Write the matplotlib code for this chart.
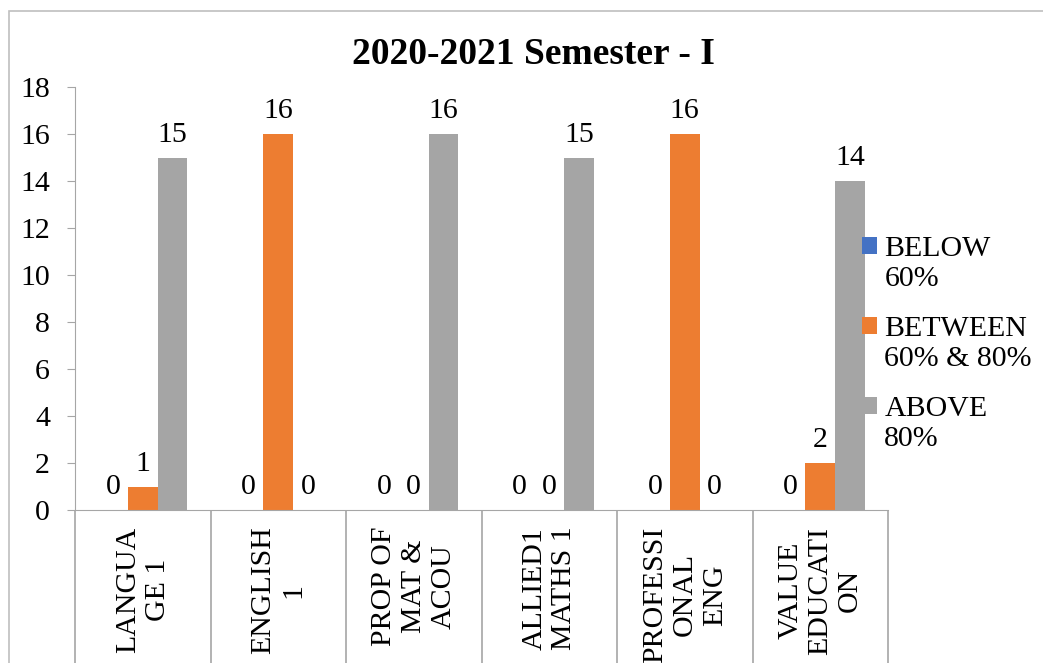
import matplotlib.pyplot as plt
import matplotlib.patches as mpatches
from matplotlib.legend_handler import HandlerPatch
from matplotlib.container import BarContainer
import numpy as np

plt.rcParams['font.family'] = ['Liberation Serif', 'DejaVu Serif']

categories = ['LANGUA\nGE 1', 'ENGLISH\n1', 'PROP OF\nMAT &\nACOU',
              'ALLIED1\nMATHS 1', 'PROFESSI\nONAL\nENG', 'VALUE\nEDUCATI\nON']
series_names = ['BELOW\n60%', 'BETWEEN\n60% & 80%', 'ABOVE\n80%']
below_60 = [0, 0, 0, 0, 0, 0]
between_60_80 = [1, 16, 0, 0, 16, 2]
above_80 = [15, 0, 16, 15, 0, 14]
colors = ['#4472C4', '#ED7D31', '#A5A5A5']

W, H = 1043, 663
fs = 21.5
fig = plt.figure(figsize=(W / 100, H / 100), dpi=100)

# outer chart border (only top and left visible in the reference)
fig.add_artist(mpatches.Rectangle((9 / W, -0.1), 1.2, (H - 11) / H + 0.1,
                                  transform=fig.transFigure, fill=False,
                                  edgecolor='#BFBFBF', linewidth=1.2))

ax = fig.add_axes([75 / W, (H - 510) / H, (888 - 75) / W, (510 - 87) / H])

x = np.arange(len(categories))
bw = 0.22
gray = '#A6A6A6'
for i, (vals, name) in enumerate(zip([below_60, between_60_80, above_80], series_names)):
    bars = ax.bar(x + (i - 1) * bw, vals, bw, color=colors[i], label=name)
    ax.bar_label(bars, labels=[str(v) for v in vals], padding=7, fontsize=fs)

ax.set_ylim(0, 18)
ax.set_xlim(-0.5, len(categories) - 0.5)
ax.set_yticks(range(0, 19, 2))
ax.tick_params(axis='y', length=6, color=gray, labelsize=fs, pad=12)

for s in ['top', 'right']:
    ax.spines[s].set_visible(False)
for s in ['left', 'bottom']:
    ax.spines[s].set_color(gray)

# category separators extending through the label area
ax.set_xticks(np.arange(-0.5, len(categories)), minor=True)
ax.tick_params(axis='x', which='minor', length=120, color=gray, width=1.2)
ax.set_xticks(x)
ax.set_xticklabels(categories, rotation=90, fontsize=fs, va='top',
                   multialignment='center', linespacing=1.2)
ax.tick_params(axis='x', which='major', length=0, pad=12)

fig.text(533 / W, 1 - 55 / H, '2020-2021 Semester - I', ha='center', va='center',
         fontsize=27, fontweight='bold')


# legend squares sit next to the first line of each two-line label
def top_square(legend, orig_handle, xdescent, ydescent, width, height, fontsize):
    return mpatches.Rectangle((-xdescent, -ydescent + 0.6 * fontsize), width, height)


def first_child(tgt, src):
    tgt.update_from(src[0])


ax.legend(loc='upper left', bbox_to_anchor=(850 / W, 1 - 224 / H),
          bbox_transform=fig.transFigure, frameon=False, fontsize=fs,
          handlelength=0.5, handleheight=0.5, handletextpad=0.25,
          labelspacing=0.8, borderaxespad=0,
          handler_map={BarContainer: HandlerPatch(patch_func=top_square,
                                                  update_func=first_child)})

fig.savefig('out.png', dpi=100)
